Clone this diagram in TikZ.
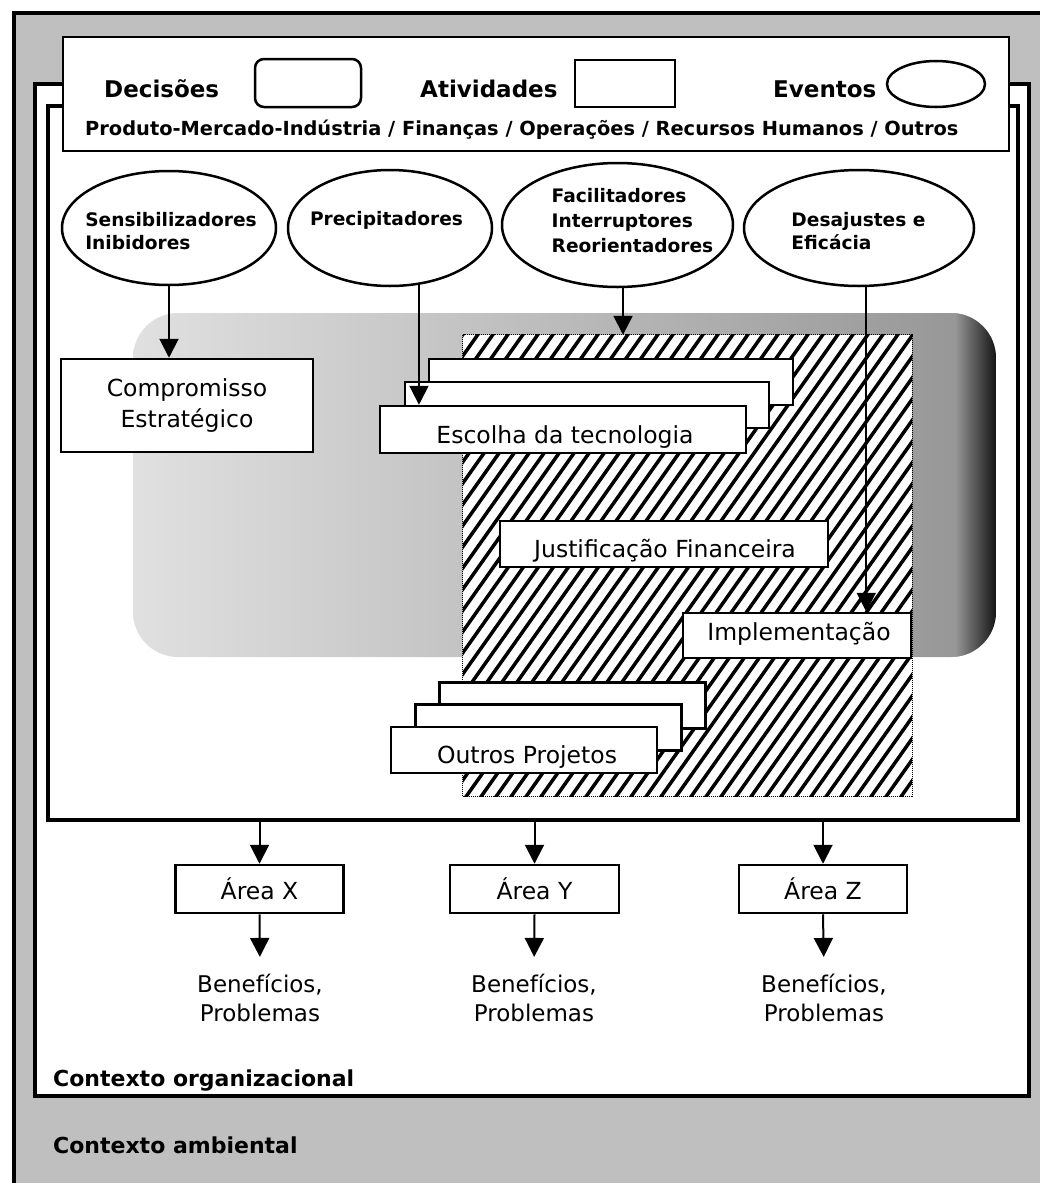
\documentclass[tikz,border=0pt]{standalone}
\usepackage{fontspec}
\setmainfont{DejaVu Sans}
\usetikzlibrary{arrows.meta,shapes.geometric,calc}

\begin{document}
\begin{tikzpicture}[x=1pt,y=-1pt,
  frame/.style={draw=black, line width=3.5pt},
  box/.style={draw=black, line width=2.5pt, fill=white, rectangle, inner sep=0pt},
  evt/.style={draw=black, line width=2.5pt, ellipse, fill=white, inner sep=0pt},
  arr/.style={line width=2pt, -{Triangle[length=19pt,width=19pt]}},
  reg/.style={font=\fontsize{23.5}{31}\selectfont, inner sep=0pt},
  hdr/.style={font=\fontsize{23}{28}\selectfont\bfseries, inner sep=0pt},
  etxt/.style={font=\fontsize{18.6}{23}\selectfont\bfseries, inner sep=0pt, align=left},
  ctx/.style={font=\fontsize{22}{26}\selectfont\bfseries, inner sep=0pt, anchor=base west},
]
\path[use as bounding box] (0,0) rectangle (1040,1183);

% environmental context: grey field with its border
\begin{scope}
  \clip (0,0) rectangle (1040,1183);
  \fill[white] (0,0) rectangle (1040,1183);
  \draw[fill=black!25, line width=3.5pt] (14,13) rectangle (1070,1210);
\end{scope}

% organisational context and the process frame
\node[frame, fill=white, minimum width=994pt, minimum height=1012pt, inner sep=0pt] (org) at (532,590) {};
\node[frame, minimum width=970pt, minimum height=714pt, inner sep=0pt] (inner) at (533,463) {};

% legend header
\node[box, minimum width=946pt, minimum height=114pt] (head) at (536,94) {};
\node[hdr, anchor=base west] (tdec) at (104,97) {Decisões};
\node[box, rounded corners=9pt, minimum width=106pt, minimum height=48pt] (ldec) at (308,83) {};
\node[hdr, anchor=base west] (tati) at (420,97) {Atividades};
\node[box, minimum width=100pt, minimum height=47pt] (lati) at (625,83.5) {};
\node[hdr, anchor=base west] (teve) at (773,97) {Eventos};
\node[evt, minimum width=98pt, minimum height=46pt] (leve) at (936,84) {};
\node[font=\fontsize{19.4}{22}\selectfont\bfseries, inner sep=0pt, anchor=base west] (areas) at (85,135)
  {Produto-Mercado-Indústria / Finanças / Operações / Recursos Humanos / Outros};

% soft grey shadow behind the processes
\begin{scope}
  \clip[rounded corners=45pt] (133,313) rectangle (996,657);
  \shade[left color=black!12, right color=black!42] (133,313) rectangle (996,657);
  \shade[left color=black!42, right color=black!92] (956,313) rectangle (996,657);
\end{scope}

% hatched project area
\node[fill=white, minimum width=449pt, minimum height=461pt, inner sep=0pt] (hatch) at (687.5,565.5) {};
\begin{scope}
  \clip (hatch.south west) rectangle (hatch.north east);
  \foreach \i in {0,...,57}
    \draw[line width=3.5pt] ($(hatch.south west)+({-345+15*\i},5)$) -- ++(336,-475);
\end{scope}
\draw[densely dotted, line width=1pt] (hatch.south west) rectangle (hatch.north east);

% events
\node[evt, minimum width=214pt, minimum height=114pt] (e1) at (169,228) {};
\node[etxt] (e1t) at (171,231) {Sensibilizadores\\Inibidores};
\node[evt, minimum width=204pt, minimum height=116pt] (e2) at (390,228) {};
\node[etxt, anchor=base] (e2t) at (386.5,225) {Precipitadores};
\node[evt, minimum width=231pt, minimum height=124pt] (e3) at (617.5,225) {};
\node[etxt, font=\fontsize{18.6}{25}\selectfont\bfseries] (e3t) at (632.5,221) {Facilitadores\\Interruptores\\Reorientadores};
\node[evt, minimum width=230pt, minimum height=116pt] (e4) at (859,228) {};
\node[etxt] (e4t) at (858.5,231) {Desajustes e\\Eficácia};

% decisions and activities
\node[box, reg, align=center, minimum width=252pt, minimum height=93pt] (cs) at (187,405.5) {Compromisso\\Estratégico};

\node[box, minimum width=364pt, minimum height=46pt] (esc3) at (611,382) {};
\node[box, minimum width=364pt, minimum height=46pt] (esc2) at (587,405) {};
\node[box, minimum width=366pt, minimum height=47pt] (esc) at (563,429.5) {};
\node[reg, anchor=base] (esct) at (565,443) {Escolha da tecnologia};

\node[box, minimum width=328pt, minimum height=46pt] (jf) at (664,544) {};
\node[reg, anchor=base] (jft) at (665,557) {Justificação Financeira};

\node[box, minimum width=228pt, minimum height=45pt] (imp) at (797,635.5) {};
\node[reg, anchor=base] (impt) at (799,640.5) {Implementação};

\node[box, minimum width=266pt, minimum height=46pt] (op3) at (572.5,705.5) {};
\node[box, minimum width=266pt, minimum height=46pt] (op2) at (548.5,727.5) {};
\node[box, minimum width=266pt, minimum height=46pt] (op) at (524,750) {};
\node[reg, anchor=base] (opt) at (527,763.5) {Outros Projetos};

% arrows from the events
\draw[arr] (e1.south) -- (e1.south |- cs.north);
\draw[arr] (e2.-63) -- (e2.-63 |- esc.north);
\draw[arr] (e3.-85) -- (e3.-85 |- hatch.north);
\draw[arr] (e4.-83) -- (e4.-83 |- imp.north);

% areas and their outcomes
\node[box, reg, minimum width=168pt, minimum height=48pt] (ax) at (259.5,889) {Área X};
\node[box, reg, minimum width=169pt, minimum height=48pt] (ay) at (534.5,889) {Área Y};
\node[box, reg, minimum width=168pt, minimum height=48pt] (az) at (823,889) {Área Z};
\node[reg, align=center, font=\fontsize{23}{29}\selectfont] (bx) at (260,998) {Benefícios,\\Problemas};
\node[reg, align=center, font=\fontsize{23}{29}\selectfont] (by) at (534,998) {Benefícios,\\Problemas};
\node[reg, align=center, font=\fontsize{23}{29}\selectfont] (bz) at (824,998) {Benefícios,\\Problemas};

\foreach \a in {ax,ay,az}
  \draw[arr] (\a.north |- inner.south) -- (\a.north);
\draw[arr, shorten >=17pt] (ax.south) -- (bx.north);
\draw[arr, shorten >=17pt] (ay.south) -- (by.north);
\draw[arr, shorten >=17pt] (az.south) -- (bz.north);

% context labels
\node[ctx] (corg) at (53,1086) {Contexto organizacional};
\node[ctx] (camb) at (53,1153) {Contexto ambiental};
\end{tikzpicture}
\end{document}
